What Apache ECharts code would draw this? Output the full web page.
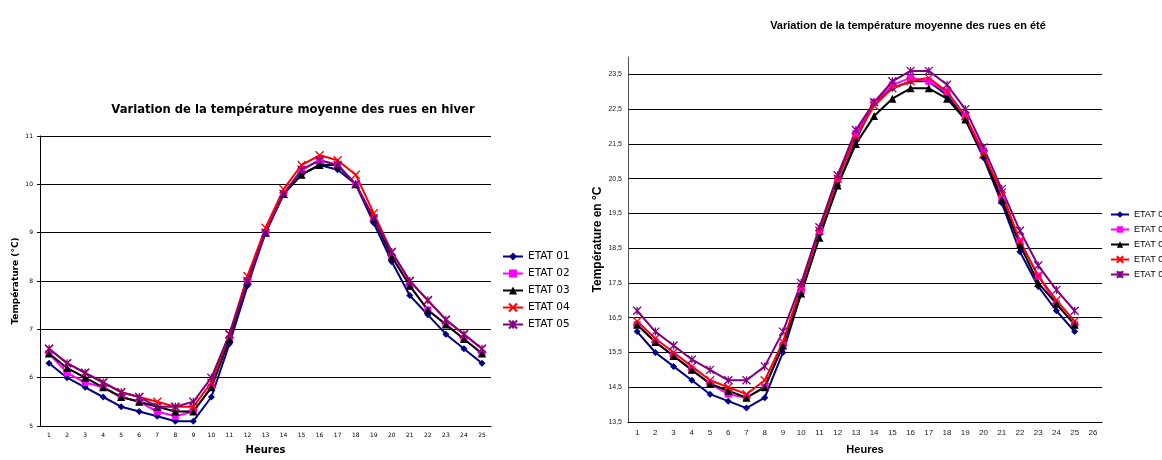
<!DOCTYPE html>
<html>
<head>
<meta charset="utf-8">
<script src="https://cdn.jsdelivr.net/npm/echarts@6/dist/echarts.min.js"></script>
<style>
  html, body { margin: 0; padding: 0; background: #fff; }
  #main { width: 1162px; height: 460px; }
</style>
</head>
<body>
<div id="main"></div>
<script>
// heures
var heuresHiver = ['1','2','3','4','5','6','7','8','9','10','11','12','13','14','15','16','17','18','19','20','21','22','23','24','25'];
var heuresEte = ['1','2','3','4','5','6','7','8','9','10','11','12','13','14','15','16','17','18','19','20','21','22','23','24','25','26'];
var etats = ['ETAT 01', 'ETAT 02', 'ETAT 03', 'ETAT 04', 'ETAT 05'];

// hiver
var hiver01 = [6.3,6.0,5.8,5.6,5.4,5.3,5.2,5.1,5.1,5.6,6.7,7.9,9.0,9.8,10.2,10.4,10.3,10.0,9.2,8.4,7.7,7.3,6.9,6.6,6.3];
var hiver02 = [6.5,6.1,5.9,5.8,5.6,5.5,5.3,5.2,5.3,5.8,6.8,8.0,9.0,9.8,10.3,10.5,10.4,10.0,9.3,8.5,7.9,7.4,7.1,6.8,6.5];
var hiver03 = [6.5,6.2,6.0,5.8,5.6,5.5,5.4,5.3,5.3,5.8,6.8,8.0,9.0,9.8,10.2,10.4,10.4,10.0,9.3,8.5,7.9,7.4,7.1,6.8,6.5];
var hiver04 = [6.6,6.3,6.1,5.9,5.7,5.6,5.5,5.4,5.4,5.9,6.9,8.1,9.1,9.9,10.4,10.6,10.5,10.2,9.4,8.6,8.0,7.6,7.2,6.9,6.6];
var hiver05 = [6.6,6.3,6.1,5.9,5.7,5.6,5.4,5.4,5.5,6.0,6.9,8.0,9.0,9.8,10.3,10.5,10.4,10.0,9.3,8.6,8.0,7.6,7.2,6.9,6.6];

// ete
var ete01 = [16.1,15.5,15.1,14.7,14.3,14.1,13.9,14.2,15.5,17.2,18.9,20.3,21.6,22.7,23.1,23.3,23.3,22.9,22.2,21.1,19.8,18.4,17.4,16.7,16.1];
var ete02 = [16.3,15.8,15.4,15.0,14.6,14.3,14.2,14.5,15.7,17.3,19.0,20.5,21.8,22.7,23.2,23.4,23.3,23.0,22.3,21.3,19.9,18.7,17.7,16.9,16.3];
var ete03 = [16.3,15.8,15.4,15.0,14.6,14.4,14.2,14.5,15.7,17.2,18.8,20.3,21.5,22.3,22.8,23.1,23.1,22.8,22.2,21.2,19.9,18.6,17.5,16.9,16.3];
var ete04 = [16.4,15.9,15.5,15.1,14.7,14.5,14.3,14.7,15.8,17.4,19.0,20.5,21.7,22.6,23.1,23.3,23.4,23.0,22.3,21.2,20.1,18.7,17.7,17.0,16.4];
var ete05 = [16.7,16.1,15.7,15.3,15.0,14.7,14.7,15.1,16.1,17.5,19.1,20.6,21.9,22.7,23.3,23.6,23.6,23.2,22.5,21.4,20.2,19.0,18.0,17.3,16.7];

var couleurs = ['#000080', '#ff00ff', '#000000', '#ff0000', '#800080'];
var symboles = ['diamond', 'rect', 'triangle',
  'path://M0,0L10,10M10,0L0,10',
  'path://M0,0L10,10M10,0L0,10M5,0L5,10'];
var tailles = [7, 7, 8, 8, 8];

function fmtVirgule(v) {
  return String(v).replace('.', ',');
}

function makeSeries(data, i, idx) {
  var stroke = i >= 3;
  return {
    name: etats[i],
    type: 'line',
    xAxisIndex: idx,
    yAxisIndex: idx,
    data: data,
    symbol: symboles[i],
    symbolSize: tailles[i],
    showAllSymbol: true,
    lineStyle: { color: couleurs[i], width: 2 },
    itemStyle: {
      color: stroke ? 'rgba(0,0,0,0)' : couleurs[i],
      borderColor: couleurs[i],
      borderWidth: stroke ? 1.3 : 0
    },
    emphasis: { disabled: true },
    animation: false
  };
}

var series = [];
[hiver01, hiver02, hiver03, hiver04, hiver05].forEach(function (d, i) {
  series.push(makeSeries(d, i, 0));
});
[ete01, ete02, ete03, ete04, ete05].forEach(function (d, i) {
  series.push(makeSeries(d, i, 1));
});

var font = 'Liberation Sans, Arial, sans-serif';
var fontLarge = 'DejaVu Sans, sans-serif';

var option = {
  backgroundColor: '#fff',
  animation: false,
  textStyle: { fontFamily: font },
  title: [
    {
      text: 'Variation de la température moyenne des rues en hiver',
      left: 288, top: 99, textAlign: 'center',
      textStyle: { fontSize: 11.6, fontWeight: 'bold', color: '#000', fontFamily: fontLarge }
    },
    {
      text: 'Variation de la température moyenne des rues en été',
      left: 903, top: 15, textAlign: 'center',
      textStyle: { fontSize: 11, fontWeight: 'bold', color: '#000', fontFamily: font }
    }
  ],
  legend: [
    {
      data: etats,
      orient: 'vertical',
      left: 497, top: 246,
      itemWidth: 20, itemHeight: 10, itemGap: 6,
      textStyle: { fontSize: 10.5, lineHeight: 10, color: '#000', fontFamily: fontLarge }
    },
    {
      data: etats,
      orient: 'vertical',
      left: 1105, top: 205,
      itemWidth: 18, itemHeight: 8, itemGap: 6,
      textStyle: { fontSize: 9, lineHeight: 8, color: '#000', fontFamily: font }
    }
  ],
  grid: [
    { left: 40, right: 671, top: 136, bottom: 29 },
    { left: 628, right: 60, top: 57, bottom: 32 }
  ],
  xAxis: [
    {
      gridIndex: 0,
      type: 'category',
      data: heuresHiver,
      name: 'Heures',
      nameLocation: 'middle',
      nameGap: 19,
      nameTextStyle: { fontSize: 10, fontWeight: 'bold', color: '#000', fontFamily: fontLarge },
      axisLine: { lineStyle: { color: '#000', width: 1 } },
      axisTick: { length: 3, lineStyle: { color: '#000' } },
      axisLabel: { fontSize: 6, color: '#000', margin: 6, interval: 0, fontFamily: fontLarge }
    },
    {
      gridIndex: 1,
      type: 'category',
      data: heuresEte,
      name: 'Heures',
      nameLocation: 'middle',
      nameGap: 22,
      nameTextStyle: { fontSize: 11, fontWeight: 'bold', color: '#000' },
      axisLine: { lineStyle: { color: '#000', width: 1 } },
      axisTick: { length: 3, lineStyle: { color: '#000' } },
      axisLabel: { fontSize: 8, color: '#222', margin: 7, interval: 0 }
    }
  ],
  yAxis: [
    {
      gridIndex: 0,
      type: 'value',
      min: 5, max: 11, interval: 1,
      name: 'Température (°C)',
      nameLocation: 'middle',
      nameGap: 20,
      nameTextStyle: { fontSize: 9, fontWeight: 'bold', color: '#000', fontFamily: fontLarge },
      axisLine: { show: true, lineStyle: { color: '#000', width: 1 } },
      axisTick: { show: true, length: 3, lineStyle: { color: '#000' } },
      axisLabel: { fontSize: 6, color: '#000', margin: 7, fontFamily: fontLarge },
      splitLine: { lineStyle: { color: '#000', width: 1 } }
    },
    {
      gridIndex: 1,
      type: 'value',
      min: 13.5, max: 24, interval: 0.5,
      name: 'Température en °C',
      nameLocation: 'middle',
      nameGap: 24,
      nameTextStyle: { fontSize: 12, fontWeight: 'bold', color: '#000' },
      axisLine: { show: true, lineStyle: { color: '#555', width: 1 } },
      axisTick: { show: false },
      axisLabel: {
        fontSize: 7, color: '#222', margin: 6,
        formatter: function (v) {
          return (Math.round(v * 2) % 2 === 1) ? fmtVirgule(v) : '';
        }
      },
      splitLine: { lineStyle: { color: ['#000', 'rgba(0,0,0,0)'], width: 1 } }
    }
  ],
  series: series
};

var chart = echarts.init(document.getElementById('main'));
chart.setOption(option);
</script>
</body>
</html>
